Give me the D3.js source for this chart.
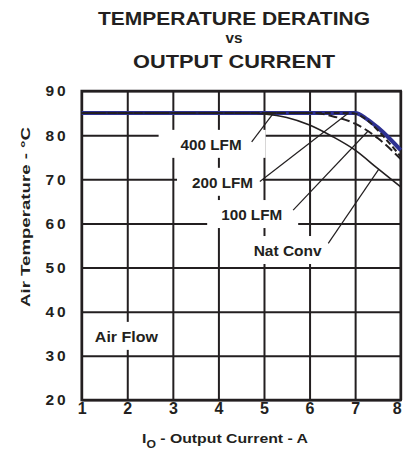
<!DOCTYPE html>
<html>
<head>
<meta charset="utf-8">
<script src="https://cdn.jsdelivr.net/npm/d3@7"></script>
<style>
  body { margin: 0; background: #fff; }
  svg text { font-family: "Liberation Sans", Arial, sans-serif; font-weight: bold; fill: #231f20; }
  .grid line { stroke: #231f20; stroke-width: 2; }
  .grid path { display: none; }
  .grid text { font-size: 16px; }
</style>
</head>
<body>
<svg width="403" height="455"></svg>
<script>
// tick values
const currentTicks = [1, 2, 3, 4, 5, 6, 7, 8]
const tempTicks = [20, 30, 40, 50, 60, 70, 80, 90]

// derating curves (current in A, temperature in °C)
const natConvI = [1, 4.7, 5, 5.5, 6, 6.5, 7, 7.5, 8]
const natConvT = [85, 85, 84.8, 84, 82.3, 79.7, 76.6, 72.4, 68.3]
const lfm100I = [1, 6.1, 6.5, 7, 7.5, 8]
const lfm100T = [85, 85, 84.3, 82.6, 79.3, 74.6]
const lfm200I = [1, 6.9, 7.1, 7.3, 7.5, 7.75, 8]
const lfm200T = [85, 85, 84.5, 83.1, 81.1, 78.2, 75.2]
const lfm400I = [1, 7, 7.25, 7.5, 7.75, 8]
const lfm400T = [85, 85, 83.7, 81.7, 79.3, 76.6]

// labels and their leader lines (data coordinates)
const labelNames = ["400 LFM", "200 LFM", "100 LFM", "Nat Conv", "Air Flow"]
const labelI = [3.84, 4.09, 4.73, 5.52, 1.98]
const labelT = [77.8, 69.2, 61.9, 53.75, 34.3]
const leaderFrom = [[4.73, 78.5], [4.91, 69.5], [5.64, 63.0], [6.41, 55.5]]
const leaderTo = [[5.2, 84.9], [6.84, 84.9], [7.29, 81.0], [7.52, 72.3]]

const svg = d3.select("svg"),
      margin = {top: 91, right: 2.3, bottom: 55, left: 81.7},
      width = 403 - margin.left - margin.right,
      height = 455 - margin.top - margin.bottom,
      g = svg.append("g").attr("transform", "translate(" + margin.left + "," + margin.top + ")")

const x = d3.scaleLinear().domain([1, 8]).range([0, width]),
      y = d3.scaleLinear().domain([20, 90]).range([height, 0])

// title
const titleLines = [
  {text: "TEMPERATURE DERATING", y: 25, size: 18.5, len: 272},
  {text: "vs", y: 42.7, size: 15, len: 17},
  {text: "OUTPUT CURRENT", y: 68.3, size: 18.5, len: 202}
]
svg.selectAll(".title")
  .data(titleLines)
  .enter().append("text")
    .attr("class", "title")
    .attr("x", 234)
    .attr("y", d => d.y)
    .attr("text-anchor", "middle")
    .attr("textLength", d => d.len)
    .attr("lengthAdjust", "spacingAndGlyphs")
    .style("font-size", d => d.size + "px")
    .text(d => d.text)

// grid through the axes
g.append("g")
  .attr("class", "grid xlab")
  .attr("transform", "translate(0," + height + ")")
  .call(d3.axisBottom(x).tickValues(currentTicks).tickSize(-height).tickPadding(2.5).tickFormat(d3.format("d")))

g.selectAll(".xlab text").attr("dx", d => d === 8 ? -4 : 0)

g.append("g")
  .attr("class", "grid ylab")
  .call(d3.axisLeft(y).tickValues(tempTicks).tickSize(-width).tickPadding(13).tickFormat(d3.format("d")))

g.selectAll(".ylab text").style("letter-spacing", "3px").style("font-size", "15.5px")

// labels with white boxes that break the grid
const padL = [22, 15, 14, 3, 5],
      padR = [24, 10, 16, 4, 7]

const labels = g.selectAll(".label")
  .data(labelNames)
  .enter().append("g")
    .attr("class", "label")

const labelText = labels.append("text")
  .attr("x", (d, i) => x(labelI[i]))
  .attr("y", (d, i) => y(labelT[i]))
  .attr("dy", "0.35em")
  .attr("text-anchor", "middle")
  .style("font-size", "15px")
  .attr("textLength", d => d === "Air Flow" ? 63 : d === "Nat Conv" ? 68 : 61)
  .attr("lengthAdjust", "spacingAndGlyphs")
  .text(d => d)

labelText.each(function (d, i) {
  const bb = this.getBBox()
  const cy = y(labelT[i])
  d3.select(this.parentNode).insert("rect", "text")
    .attr("x", bb.x - padL[i])
    .attr("y", cy - 15)
    .attr("width", bb.width + padL[i] + padR[i])
    .attr("height", 28)
    .style("fill", "#fff")
})

// frame
g.append("rect")
  .attr("width", width).attr("height", height)
  .style("fill", "none").style("stroke", "#231f20").style("stroke-width", 2.5)

// curves
const line = d3.line()
  .x(d => x(d[0]))
  .y(d => y(d[1]))
  .curve(d3.curveMonotoneX)

const series = [
  {id: "400", pts: d3.zip(lfm400I, lfm400T), color: "#2e3192", w: 4, dash: null},
  {id: "nat", pts: d3.zip(natConvI, natConvT), color: "#231f20", w: 1.6, dash: null},
  {id: "100", pts: d3.zip(lfm100I, lfm100T), color: "#231f20", w: 2, dash: "9,4"},
  {id: "200", pts: d3.zip(lfm200I, lfm200T), color: "#231f20", w: 2, dash: "6,3"}
]

g.selectAll(".curve")
  .data(series)
  .enter().append("path")
    .attr("class", "curve")
    .attr("d", d => line(d.pts))
    .style("fill", "none")
    .style("stroke", d => d.color)
    .style("stroke-width", d => d.w)
    .style("stroke-dasharray", d => d.dash)

// leader lines
g.selectAll(".leader")
  .data(leaderFrom)
  .enter().append("line")
    .attr("class", "leader")
    .attr("x1", d => x(d[0]))
    .attr("y1", d => y(d[1]))
    .attr("x2", (d, i) => x(leaderTo[i][0]))
    .attr("y2", (d, i) => y(leaderTo[i][1]))
    .style("stroke", "#231f20")
    .style("stroke-width", 1.2)

// axis titles
const xTitle = svg.append("text")
  .attr("x", 225)
  .attr("y", 442.7)
  .attr("text-anchor", "middle")
  .style("font-size", "13px")
xTitle.append("tspan").text("I")
xTitle.append("tspan").attr("dy", 5).style("font-size", "10px").text("O")
xTitle.append("tspan").attr("dy", -5).text(" - Output Current - A")
xTitle.attr("textLength", 166).attr("lengthAdjust", "spacingAndGlyphs")

svg.append("text")
  .attr("transform", "translate(30,217) rotate(-90)")
  .attr("text-anchor", "middle")
  .style("font-size", "13px")
  .attr("textLength", 180)
  .attr("lengthAdjust", "spacingAndGlyphs")
  .text("Air Temperature - °C")
</script>
</body>
</html>
